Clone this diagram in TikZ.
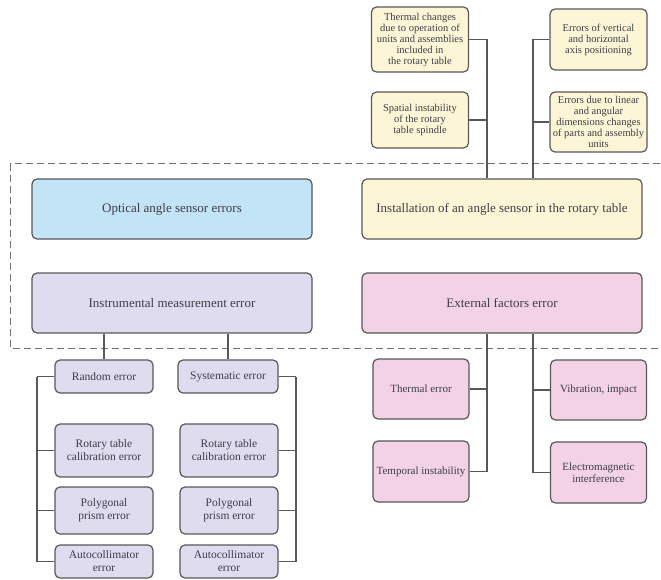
\documentclass[tikz,border=0pt]{standalone}
\usepackage{fontspec}
\setmainfont{Liberation Serif}
\usetikzlibrary{positioning}

\definecolor{edge}{HTML}{585858}
\definecolor{ink}{HTML}{3E3E48}
\definecolor{skyfill}{HTML}{C2E4F6}
\definecolor{creamfill}{HTML}{FCF6D6}
\definecolor{lilacfill}{HTML}{DFDCEF}
\definecolor{rosefill}{HTML}{F2D2E4}

\begin{document}
\begin{tikzpicture}[
x=1pt, y=-1pt,
box/.style={
  draw=edge,
  line width=1.2pt,
  rounded corners=5pt,
  align=center,
  inner sep=1pt,
  text=ink
  },
group/.style={
  box,
  minimum width=280pt,
  minimum height=60pt,
  font=\fontsize{13}{15}\selectfont
  },
cause/.style={
  box,
  minimum width=98pt,
  font=\fontsize{11.5}{13}\selectfont
  },
factor/.style={
  box,
  minimum width=96pt,
  fill=rosefill,
  font=\fontsize{11}{12.5}\selectfont
  },
detail/.style={
  box,
  minimum width=97pt,
  fill=creamfill,
  font=\fontsize{10.5}{11}\selectfont
  },
link/.style={
  draw=edge,
  line width=1.1pt
  },
frame/.style={
  draw=edge!85,
  line width=1pt,
  dash pattern=on 7pt off 4pt
  }
]
\useasboundingbox (0,0) rectangle (661,580);

\draw[frame] (10,164) rectangle (668,348);

% main groups
\node[group, fill=skyfill] (optic) at (172,209) {Optical angle sensor errors};
\node[group, fill=creamfill] (inst) at (502,209) {Installation of an angle sensor in the rotary table};
\node[group, fill=lilacfill] (instr) at (172,303) {Instrumental measurement error};
\node[group, fill=rosefill] (ext) at (502,303) {External factors error};

% installation details
\node[detail, minimum height=65pt] (therm) at (420,39.5) {Thermal changes\\due to operation of\\units and assemblies\\included in\\the rotary table};
\node[detail, minimum height=56pt] (spat) at (420,120) {Spatial instability\\of the rotary\\table spindle};
\node[detail, minimum height=61pt] (vert) at (598.5,39.5) {Errors of vertical\\and horizontal\\axis positioning};
\node[detail, minimum height=60pt] (lin) at (598.5,122) {Errors due to linear\\and angular\\dimensions changes\\of parts and assembly\\units};

% instrumental error
\node[cause, fill=lilacfill, minimum height=33pt] (rand) at (104,376.5) {Random error};
\node[cause, fill=lilacfill, minimum height=33pt, minimum width=100pt] (syst) at (228,376.5) {Systematic error};
\node[cause, fill=lilacfill, minimum height=53pt] (rotL) at (104,450.5) {Rotary table\\calibration error};
\node[cause, fill=lilacfill, minimum height=47pt] (polyL) at (104,510.5) {Polygonal\\prism error};
\node[cause, fill=lilacfill, minimum height=33pt] (autoL) at (104,561.5) {Autocollimator\\error};
\node[cause, fill=lilacfill, minimum height=53pt] (rotR) at (229,450.5) {Rotary table\\calibration error};
\node[cause, fill=lilacfill, minimum height=47pt] (polyR) at (229,510.5) {Polygonal\\prism error};
\node[cause, fill=lilacfill, minimum height=33pt] (autoR) at (229,561.5) {Autocollimator\\error};

% external factors
\node[factor, minimum height=60pt] (therr) at (421,389) {Thermal error};
\node[factor, minimum height=61pt] (temp) at (421,471.5) {Temporal instability};
\node[factor, minimum height=60pt] (vib) at (598.5,390) {Vibration, impact};
\node[factor, minimum height=61pt] (emag) at (598.5,472.5) {Electromagnetic\\interference};

\coordinate (spL) at (487,0);
\coordinate (spR) at (533,0);
\coordinate (brL) at (37,0);
\coordinate (brR) at (296,0);

\draw[link] (therm.east) -| (spL |- inst.north);
\draw[link] (spat.east) -- (spat.east -| spL);
\draw[link] (vert.west) -| (spR |- inst.north);
\draw[link] (lin.west) -- (lin.west -| spR);

\draw[link] (ext.south -| spL) |- (temp.east);
\draw[link] (therr.east) -- (therr.east -| spL);
\draw[link] (ext.south -| spR) |- (emag.west);
\draw[link] (vib.west) -- (vib.west -| spR);

\draw[link] (instr.south -| rand.north) -- (rand.north);
\draw[link] (instr.south -| syst.north) -- (syst.north);
\foreach \n in {rand,rotL,polyL,autoL}
  \draw[link] (\n.west) -- (\n.west -| brL);
\draw[link] (rand.west -| brL) -- (autoL.west -| brL);
\foreach \n in {syst,rotR,polyR,autoR}
  \draw[link] (\n.east) -- (\n.east -| brR);
\draw[link] (syst.east -| brR) -- (autoR.east -| brR);
\end{tikzpicture}
\end{document}
